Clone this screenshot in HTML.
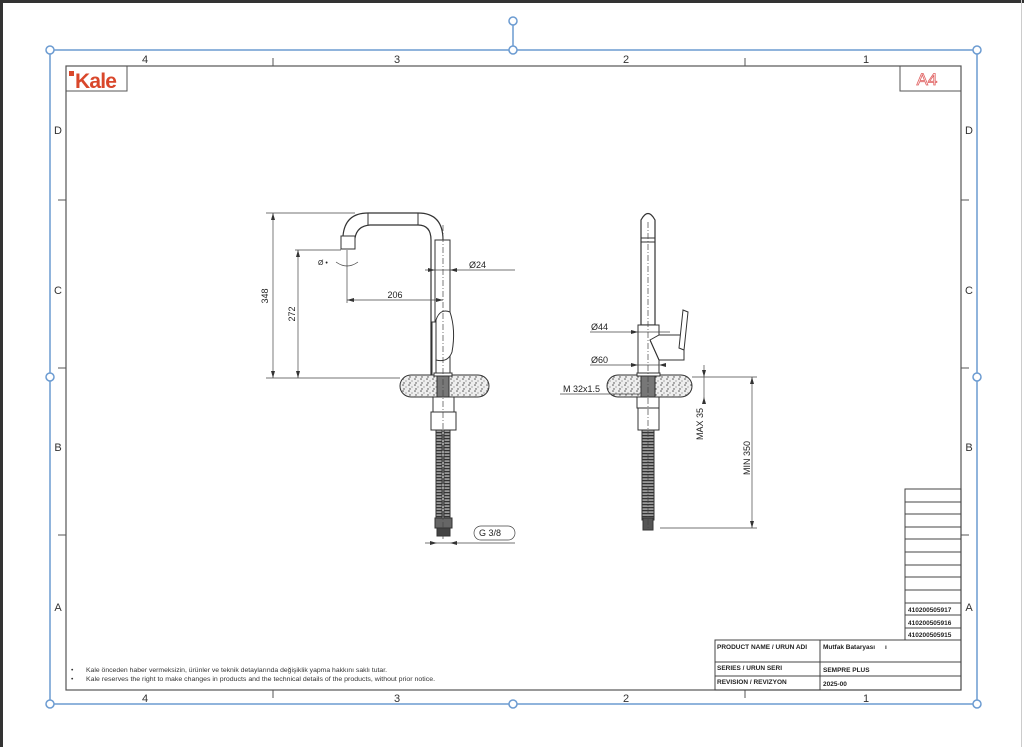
<!DOCTYPE html>
<html><head><meta charset="utf-8"><style>
html,body{margin:0;padding:0;background:#fff;}
svg{display:block;font-family:"Liberation Sans",Arial,sans-serif;}
</style></head><body>
<svg width="1024" height="747" viewBox="0 0 1024 747" xmlns="http://www.w3.org/2000/svg">
<defs>
<pattern id="sp" width="6" height="6" patternUnits="userSpaceOnUse">
<rect width="6" height="6" fill="#eee"/>
<circle cx="1" cy="1" r="0.8" fill="#555"/><circle cx="4" cy="3" r="0.6" fill="#777"/><circle cx="2" cy="5" r="0.7" fill="#444"/>
</pattern>
<pattern id="hs" width="4" height="3" patternUnits="userSpaceOnUse">
<rect width="4" height="3" fill="#999"/><rect width="4" height="1.2" fill="#333"/>
</pattern>
</defs>
<rect x="0" y="0" width="1024" height="3" fill="#333"/>
<rect x="0" y="0" width="3" height="747" fill="#333"/>
<rect x="1021" y="0" width="1" height="747" fill="#ccc"/>

<rect x="50" y="50" width="927" height="654" fill="none" stroke="#888" stroke-width="1"/>
<rect x="66" y="66" width="895" height="624" fill="none" stroke="#555" stroke-width="1.2"/>
<g stroke="#555" stroke-width="1">
<line x1="273" y1="58" x2="273" y2="66"/><line x1="745" y1="58" x2="745" y2="66"/>
<line x1="273" y1="690" x2="273" y2="698"/><line x1="745" y1="690" x2="745" y2="698"/>
<line x1="58" y1="200" x2="66" y2="200"/><line x1="58" y1="368" x2="66" y2="368"/><line x1="58" y1="535" x2="66" y2="535"/>
<line x1="961" y1="200" x2="969" y2="200"/><line x1="961" y1="368" x2="969" y2="368"/><line x1="961" y1="535" x2="969" y2="535"/>
</g>
<g font-size="11" fill="#333" text-anchor="middle">
<text x="145" y="63">4</text><text x="397" y="63">3</text><text x="626" y="63">2</text><text x="866" y="63">1</text>
<text x="145" y="702">4</text><text x="397" y="702">3</text><text x="626" y="702">2</text><text x="866" y="702">1</text>
<text x="58" y="134">D</text><text x="58" y="294">C</text><text x="58" y="451">B</text><text x="58" y="611">A</text>
<text x="969" y="134">D</text><text x="969" y="294">C</text><text x="969" y="451">B</text><text x="969" y="611">A</text>
</g>
<g stroke="#6b9bd1" stroke-width="1.5" fill="#fff">
<rect x="50" y="50" width="927" height="654" fill="none"/>
<line x1="513" y1="22" x2="513" y2="50"/>
<circle cx="513" cy="21" r="4"/>
<circle cx="50" cy="50" r="4"/><circle cx="513" cy="50" r="4"/><circle cx="977" cy="50" r="4"/>
<circle cx="50" cy="377" r="4"/><circle cx="977" cy="377" r="4"/>
<circle cx="50" cy="704" r="4"/><circle cx="513" cy="704" r="4"/><circle cx="977" cy="704" r="4"/>
</g>
<rect x="66" y="66" width="61" height="25" fill="none" stroke="#555"/>
<rect x="69" y="71" width="5" height="5" fill="#d9472b"/>
<text x="75" y="88" font-size="21" font-weight="bold" fill="#d9472b" letter-spacing="-0.8">Kale</text>
<rect x="900" y="66" width="61" height="25" fill="none" stroke="#555"/>
<text x="927" y="85" font-size="17" fill="#fff" stroke="#e06060" stroke-width="0.8" text-anchor="middle">A4</text>

<g stroke="#444" stroke-width="1" fill="none">
<rect x="905" y="489" width="56" height="151"/>
<line x1="905" y1="502" x2="961" y2="502"/><line x1="905" y1="514" x2="961" y2="514"/><line x1="905" y1="527" x2="961" y2="527"/>
<line x1="905" y1="539" x2="961" y2="539"/><line x1="905" y1="552" x2="961" y2="552"/><line x1="905" y1="565" x2="961" y2="565"/>
<line x1="905" y1="577" x2="961" y2="577"/><line x1="905" y1="590" x2="961" y2="590"/><line x1="905" y1="603" x2="961" y2="603"/>
<line x1="905" y1="615" x2="961" y2="615"/><line x1="905" y1="628" x2="961" y2="628"/>
<rect x="715" y="640" width="246" height="50"/>
<line x1="820" y1="640" x2="820" y2="690"/>
<line x1="715" y1="662" x2="961" y2="662"/><line x1="715" y1="676" x2="961" y2="676"/>
</g>
<g font-size="6.5" fill="#222" font-weight="bold">
<text x="908" y="612">410200505917</text><text x="908" y="625">410200505916</text><text x="908" y="637">410200505915</text>
<text x="717" y="649">PRODUCT NAME / URUN ADI</text><text x="823" y="649">Mutfak Bataryası</text><text x="885" y="649">ı</text>
<text x="717" y="670">SERIES / URUN SERI</text><text x="823" y="672">SEMPRE PLUS</text>
<text x="717" y="684">REVISION / REVIZYON</text><text x="823" y="686">2025-00</text>
</g>
<g font-size="6.8" fill="#333">
<text x="71" y="672">•</text><text x="86" y="672" textLength="301" lengthAdjust="spacingAndGlyphs">Kale önceden haber vermeksizin, ürünler ve teknik detaylarında değişiklik yapma hakkını saklı tutar.</text>
<text x="71" y="681">•</text><text x="86" y="681" textLength="349" lengthAdjust="spacingAndGlyphs">Kale reserves the right to make changes in products and the technical details of the products, without prior notice.</text>
</g>

<!-- LEFT VIEW -->
<g stroke="#333" stroke-width="1" fill="#fff">
<path d="M443,378 L443,240 Q443,213 418,213 L368,213 Q345,213 343,236 L355,238 Q357,226 370,225 L418,225 Q431,225 431,240 L431,378" fill="none" stroke-width="1.2"/>
<path d="M435,240 L450,240 L450,378 L435,378Z" fill="#fff"/>
<line x1="368" y1="213" x2="368" y2="225"/><line x1="418" y1="213" x2="418" y2="225"/>
<rect x="341" y="236" width="14" height="13" fill="#fff"/>
<path d="M436,378 L436,320 Q440,308 450,312 Q456,330 452,352 Q448,363 436,360" fill="#fff"/>
<rect x="432" y="322" width="4" height="53"/>
<rect x="400" y="375" width="89" height="22" rx="11" fill="url(#sp)"/>
<rect x="434" y="373" width="18" height="3"/>
<rect x="437" y="376" width="12" height="21" fill="#777"/>
<rect x="433" y="397" width="21" height="15"/>
<rect x="431" y="412" width="25" height="18"/>
<rect x="436" y="430" width="6" height="90" fill="url(#hs)"/>
<rect x="444" y="430" width="6" height="90" fill="url(#hs)"/>
<rect x="435" y="518" width="17" height="10" fill="#666"/>
<rect x="437" y="528" width="13" height="8" fill="#444"/>
</g>
<g stroke="#444" stroke-width="0.7" fill="none">
<line x1="443" y1="225" x2="443" y2="540" stroke-dasharray="6,2,1,2"/>
<line x1="266" y1="213" x2="355" y2="213"/><line x1="266" y1="378" x2="400" y2="378"/>
<line x1="273" y1="213" x2="273" y2="378"/><line x1="298" y1="250" x2="298" y2="378"/>
<line x1="295" y1="250" x2="341" y2="250"/>
<line x1="347" y1="250" x2="347" y2="303"/>
<line x1="347" y1="300" x2="443" y2="300"/>
<line x1="425" y1="270" x2="515" y2="270"/>
<line x1="425" y1="543" x2="515" y2="543"/>
<path d="M336,262 Q347,270 358,262"/>
<rect x="474" y="526" width="41" height="14" rx="7"/>
</g>
<g fill="#333">
<path d="M273,213 l-2,7 h4z"/><path d="M273,378 l-2,-7 h4z"/>
<path d="M298,250 l-2,7 h4z"/><path d="M298,378 l-2,-7 h4z"/>
<path d="M347,300 l7,-2 v4z"/><path d="M443,300 l-7,-2 v4z"/>
<path d="M435,270 l-7,-2 v4z"/><path d="M450,270 l7,-2 v4z"/>
<path d="M437,543 l-7,-2 v4z"/><path d="M450,543 l7,-2 v4z"/>
</g>
<g font-size="9" fill="#222">
<text x="268" y="296" transform="rotate(-90 268 296)" text-anchor="middle">348</text>
<text x="295" y="314" transform="rotate(-90 295 314)" text-anchor="middle">272</text>
<text x="395" y="298" text-anchor="middle">206</text>
<text x="469" y="268">Ø24</text>
<text x="479" y="536">G 3/8</text>
<text x="318" y="265" font-size="7">Ø •</text>
</g>

<!-- RIGHT VIEW -->
<g stroke="#333" stroke-width="1" fill="#fff">
<path d="M641,325 L641,220 Q648,207 655,220 L655,325Z" stroke-width="1.2"/>
<line x1="641" y1="238" x2="655" y2="238"/><line x1="641" y1="242" x2="655" y2="242"/>
<rect x="638" y="325" width="21" height="50"/>
<path d="M650,340 L659,335 L684,335 L684,360 L659,360 Z"/>
<path d="M683,310 L688,312 L684,350 L679,348 Z"/>
<path d="M650,340 L659,360" fill="none"/>
<rect x="607" y="375" width="85" height="22" rx="11" fill="url(#sp)"/>
<rect x="637" y="373" width="23" height="3"/>
<rect x="641" y="376" width="14" height="21" fill="#777"/>
<rect x="637" y="397" width="22" height="11"/>
<rect x="638" y="408" width="21" height="22"/>
<rect x="642" y="430" width="12" height="90" fill="url(#hs)"/>
<rect x="643" y="518" width="10" height="12" fill="#555"/>
</g>
<g stroke="#444" stroke-width="0.7" fill="none">
<line x1="648" y1="222" x2="648" y2="530" stroke-dasharray="6,2,1,2"/>
<line x1="590" y1="332" x2="670" y2="332"/>
<line x1="590" y1="365" x2="659" y2="365"/>
<line x1="560" y1="394" x2="640" y2="394"/>
<line x1="692" y1="377" x2="757" y2="377"/>
<line x1="660" y1="528" x2="757" y2="528"/>
<line x1="704" y1="365" x2="704" y2="400"/>
<line x1="752" y1="377" x2="752" y2="528"/>
</g>
<g fill="#333">
<path d="M638,332 l-7,-2 v4z"/><path d="M659,365 l7,-2 v4z"/><path d="M638,365 l-7,-2 v4z"/>
<path d="M704,377 l-2,-7 h4z"/><path d="M704,397 l-2,7 h4z"/>
<path d="M752,377 l-2,7 h4z"/><path d="M752,528 l-2,-7 h4z"/>
</g>
<g font-size="9" fill="#222">
<text x="591" y="330">Ø44</text>
<text x="591" y="363">Ø60</text>
<text x="563" y="392">M 32x1.5</text>
<text x="703" y="424" transform="rotate(-90 703 424)" text-anchor="middle">MAX 35</text>
<text x="750" y="458" transform="rotate(-90 750 458)" text-anchor="middle">MIN 350</text>
</g>
</svg>
</body></html>
